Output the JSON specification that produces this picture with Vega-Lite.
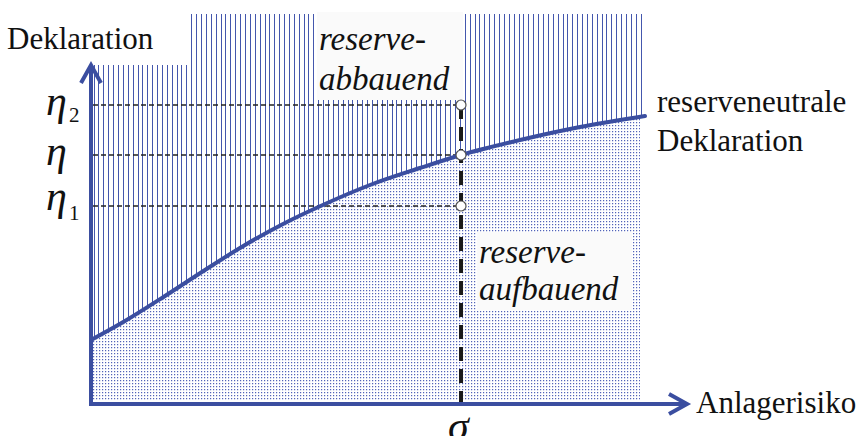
{
"$schema": "https://vega.github.io/schema/vega-lite/v6.json",
"width": 864, "height": 436, "padding": 0,
"autosize": {"type": "none"},
"background": "white",
"config": {"view": {"stroke": null}},
"datasets": {
 "dotsV": [{"x": 2, "x2": 549, "y": 146.5}],
 "dotsH": [{"x": 275.5, "y": 3, "y2": 290}],
 "curve": [{"x":0,"y":64},{"x":34,"y":83},{"x":74,"y":108},{"x":114,"y":134},{"x":154,"y":159},{"x":194,"y":181},{"x":234,"y":200},{"x":279,"y":219},{"x":329,"y":236},{"x":370,"y":249},{"x":429,"y":264},{"x":489,"y":277},{"x":554,"y":288}],
 "hatch": [{"x":3.5,"y":66},{"x":7.5,"y":68},{"x":12.5,"y":71},{"x":17.5,"y":74},{"x":22.5,"y":77},{"x":27.5,"y":79},{"x":32.5,"y":82},{"x":37.5,"y":85},{"x":42.5,"y":88},{"x":47.5,"y":91},{"x":51.5,"y":94},{"x":56.5,"y":97},{"x":61.5,"y":100},{"x":66.5,"y":103},{"x":71.5,"y":106},{"x":76.5,"y":110},{"x":81.5,"y":113},{"x":86.5,"y":116},{"x":90.5,"y":119},{"x":95.5,"y":122},{"x":100.5,"y":125},{"x":105.5,"y":129},{"x":110.5,"y":132},{"x":115.5,"y":135},{"x":120.5,"y":138},{"x":125.5,"y":141},{"x":130.5,"y":144},{"x":134.5,"y":147},{"x":139.5,"y":150},{"x":144.5,"y":153},{"x":149.5,"y":156},{"x":154.5,"y":159},{"x":159.5,"y":162},{"x":164.5,"y":165},{"x":169.5,"y":167},{"x":174.5,"y":170},{"x":178.5,"y":173},{"x":183.5,"y":175},{"x":188.5,"y":178},{"x":193.5,"y":181},{"x":198.5,"y":183},{"x":203.5,"y":185},{"x":208.5,"y":188},{"x":213.5,"y":190},{"x":217.5,"y":192},{"x":222.5,"y":195},{"x":227.5,"y":197},{"x":232.5,"y":199},{"x":237.5,"y":201},{"x":242.5,"y":204},{"x":247.5,"y":206},{"x":252.5,"y":208},{"x":257.5,"y":210},{"x":261.5,"y":212},{"x":266.5,"y":214},{"x":271.5,"y":216},{"x":276.5,"y":218},{"x":281.5,"y":220},{"x":286.5,"y":221},{"x":291.5,"y":223},{"x":296.5,"y":225},{"x":301.5,"y":226},{"x":305.5,"y":228},{"x":310.5,"y":230},{"x":315.5,"y":231},{"x":320.5,"y":233},{"x":325.5,"y":235},{"x":330.5,"y":236},{"x":335.5,"y":238},{"x":340.5,"y":240},{"x":345.5,"y":241},{"x":349.5,"y":243},{"x":354.5,"y":244},{"x":359.5,"y":246},{"x":364.5,"y":247},{"x":369.5,"y":249},{"x":374.5,"y":250},{"x":379.5,"y":251},{"x":384.5,"y":253},{"x":388.5,"y":254},{"x":393.5,"y":255},{"x":398.5,"y":256},{"x":403.5,"y":258},{"x":408.5,"y":259},{"x":413.5,"y":260},{"x":418.5,"y":261},{"x":423.5,"y":262},{"x":428.5,"y":264},{"x":432.5,"y":265},{"x":437.5,"y":266},{"x":442.5,"y":267},{"x":447.5,"y":268},{"x":452.5,"y":269},{"x":457.5,"y":270},{"x":462.5,"y":271},{"x":467.5,"y":272},{"x":472.5,"y":273},{"x":476.5,"y":274},{"x":481.5,"y":275},{"x":486.5,"y":276},{"x":491.5,"y":277},{"x":496.5,"y":278},{"x":501.5,"y":279},{"x":506.5,"y":280},{"x":511.5,"y":281},{"x":515.5,"y":282},{"x":520.5,"y":282},{"x":525.5,"y":283},{"x":530.5,"y":284},{"x":535.5,"y":285},{"x":540.5,"y":286},{"x":545.5,"y":287},{"x":550.5,"y":287}],
 "cover": [{"x": -91, "x2": 98, "y": 339, "y2": 436}],
 "boxes": [{"x": 226, "x2": 372, "y": 304, "y2": 392}, {"x": 386, "x2": 541, "y": 94, "y2": 172}],
 "hdash": [{"x": 2, "x2": 370, "y": 299}, {"x": 2, "x2": 370, "y": 249}, {"x": 2, "x2": 370, "y": 198}],
 "vdash": [{"x": 370, "y": 299, "y2": 0}],
 "axisV": [{"x": 0, "y": -2, "y2": 337}],
 "axisH": [{"x": -2, "x2": 595, "y": 0}],
 "arrowY": [{"x": 0, "y": 330}],
 "arrowX": [{"x": 587, "y": 0}],
 "circles": [{"x": 370, "y": 299}, {"x": 370, "y": 249}, {"x": 370, "y": 198}],
 "txt": [{"x": -84, "y": 355, "t": "Deklaration"}, {"x": 566, "y": 292, "t": "reserveneutrale"}, {"x": 566, "y": 253, "t": "Deklaration"}, {"x": 605, "y": -9, "t": "Anlagerisiko"}],
 "itxt": [{"x": 228, "y": 354, "t": "reserve-"}, {"x": 228, "y": 314, "t": "abbauend"}, {"x": 388, "y": 141, "t": "reserve-"}, {"x": 388, "y": 104, "t": "aufbauend"}],
 "greek": [{"x": -45, "y": 289.5, "t": "η"}, {"x": -45, "y": 239.5, "t": "η"}, {"x": -45, "y": 194.5, "t": "η"}, {"x": 357, "y": -36, "t": "σ"}],
 "sub": [{"x": -22, "y": 282, "t": "2"}, {"x": -22, "y": 184, "t": "1"}]
},
"encoding": {
 "x": {"field": "x", "type": "quantitative", "scale": {"domain": [-91, 773], "nice": false, "zero": false}, "axis": null},
 "y": {"field": "y", "type": "quantitative", "scale": {"domain": [-32, 404], "nice": false, "zero": false}, "axis": null}
},
"layer": [
 {"data": {"name": "dotsV"}, "mark": {"type": "rule", "color": "#5263b8", "strokeWidth": 287, "strokeDash": [1.2, 1.8], "strokeCap": "butt"}, "encoding": {"x2": {"field": "x2"}}},
 {"data": {"name": "dotsH"}, "mark": {"type": "rule", "color": "white", "strokeWidth": 547, "strokeDash": [1.8, 1.2], "strokeCap": "butt"}, "encoding": {"y2": {"field": "y2"}}},
 {"data": {"name": "curve"}, "mark": {"type": "area", "color": "white", "opacity": 1, "interpolate": "monotone"}, "encoding": {"y2": {"datum": 300}}},
 {"data": {"name": "hatch"}, "mark": {"type": "rule", "color": "#4457ad", "strokeWidth": 1}, "encoding": {"y2": {"datum": 390}}},
 {"data": {"name": "cover"}, "mark": {"type": "rect", "color": "white"}, "encoding": {"x2": {"field": "x2"}, "y2": {"field": "y2"}}},
 {"data": {"name": "boxes"}, "mark": {"type": "rect", "color": "#fafafa"}, "encoding": {"x2": {"field": "x2"}, "y2": {"field": "y2"}}},
 {"data": {"name": "hdash"}, "mark": {"type": "rule", "color": "#222222", "strokeWidth": 1.3, "strokeDash": [5, 3]}, "encoding": {"x2": {"field": "x2"}}},
 {"data": {"name": "vdash"}, "mark": {"type": "rule", "color": "#1a1a1a", "strokeWidth": 4, "strokeDash": [14, 8], "strokeCap": "butt"}, "encoding": {"y2": {"field": "y2"}}},
 {"data": {"name": "curve"}, "mark": {"type": "line", "color": "#3b4ea0", "strokeWidth": 4, "interpolate": "monotone", "strokeCap": "round"}, "encoding": {}},
 {"data": {"name": "axisV"}, "mark": {"type": "rule", "color": "#3b4ea0", "strokeWidth": 4}, "encoding": {"y2": {"field": "y2"}}},
 {"data": {"name": "axisH"}, "mark": {"type": "rule", "color": "#3b4ea0", "strokeWidth": 4}, "encoding": {"x2": {"field": "x2"}}},
 {"data": {"name": "arrowY"}, "mark": {"type": "point", "shape": "M-1,0.9L0,-0.9L1,0.9", "size": 400, "filled": false, "color": "#3b4ea0", "strokeWidth": 4, "opacity": 1, "strokeJoin": "miter"}, "encoding": {}},
 {"data": {"name": "arrowX"}, "mark": {"type": "point", "shape": "M-0.9,-1L0.9,0L-0.9,1", "size": 400, "filled": false, "color": "#3b4ea0", "strokeWidth": 4, "opacity": 1, "strokeJoin": "miter"}, "encoding": {}},
 {"data": {"name": "circles"}, "mark": {"type": "point", "shape": "circle", "size": 100, "filled": true, "fill": "white", "stroke": "#555555", "strokeWidth": 1.2, "opacity": 1}, "encoding": {}},
 {"data": {"name": "txt"}, "mark": {"type": "text", "align": "left", "baseline": "alphabetic", "font": "Liberation Serif", "fontSize": 31, "color": "#111111"}, "encoding": {"text": {"field": "t"}}},
 {"data": {"name": "itxt"}, "mark": {"type": "text", "align": "left", "baseline": "alphabetic", "font": "Liberation Serif", "fontStyle": "italic", "fontSize": 33, "color": "#111111"}, "encoding": {"text": {"field": "t"}}},
 {"data": {"name": "greek"}, "mark": {"type": "text", "align": "left", "baseline": "alphabetic", "font": "Liberation Serif", "fontStyle": "italic", "fontSize": 42, "color": "#111111"}, "encoding": {"text": {"field": "t"}}},
 {"data": {"name": "sub"}, "mark": {"type": "text", "align": "left", "baseline": "alphabetic", "font": "Liberation Serif", "fontSize": 21, "color": "#111111"}, "encoding": {"text": {"field": "t"}}}
]
}
